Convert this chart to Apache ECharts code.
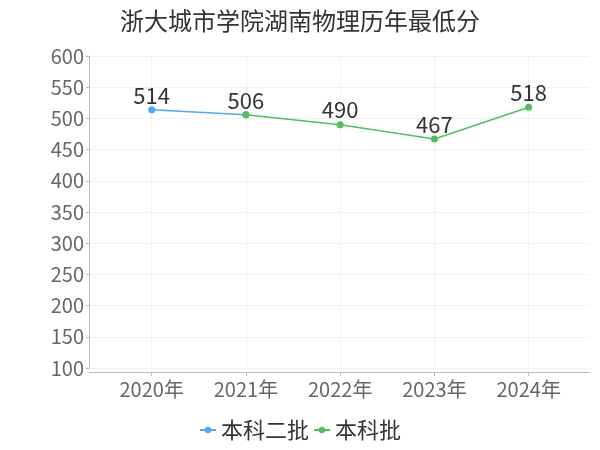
<!DOCTYPE html>
<html>
<head>
<meta charset="utf-8">
<script src="https://cdn.jsdelivr.net/npm/echarts@6/dist/echarts.min.js"></script>
<style>html,body{margin:0;padding:0;background:#fff}#c{width:600px;height:450px}</style>
</head>
<body>
<div id="c"></div>
<script>
var title = '浙大城市学院湖南物理历年最低分';
var years = ['2020年', '2021年', '2022年', '2023年', '2024年'];
var seriesNames = ['本科二批', '本科批'];
var erpi = [514, 506, null, null, null];
var benke = [null, 506, 490, 467, 518];
var yTicks = [100, 150, 200, 250, 300, 350, 400, 450, 500, 550, 600];

var FONT = '"Noto Sans CJK SC", "Noto Sans", sans-serif';

function toPoints(arr, hideIdx) {
  var out = [];
  arr.forEach(function (v, i) {
    if (v === null) return;
    var p = { value: [i, v] };
    if (hideIdx.indexOf(i) >= 0) p.label = { show: false };
    out.push(p);
  });
  return out;
}

var chart = echarts.init(document.getElementById('c'));
chart.setOption({
  animation: false,
  title: {
    text: title, left: 'center', top: 4,
    textStyle: { fontFamily: FONT, fontSize: 24, fontWeight: 'normal', color: '#333' }
  },
  legend: {
    data: seriesNames, bottom: 4, left: 'center',
    itemWidth: 16, itemHeight: 8, itemGap: 4,
    textStyle: { fontFamily: FONT, fontSize: 22, color: '#333' }
  },
  grid: { left: 89, right: 11, top: 56, bottom: 82 },
  xAxis: {
    type: 'value', min: -0.665, max: 4.64, offset: 4,
    axisLine: { show: true, onZero: false, lineStyle: { color: '#bbb' } },
    axisTick: { show: true, length: 4, lineStyle: { color: '#bbb' }, customValues: [0, 1, 2, 3, 4] },
    axisLabel: {
      fontFamily: FONT, fontSize: 20, color: '#666', margin: 7,
      customValues: [0, 1, 2, 3, 4],
      formatter: function (v) { return Number.isInteger(v) ? years[v] : ''; }
    },
    splitLine: { show: true, lineStyle: { color: '#f2f2f2' } }
  },
  yAxis: {
    type: 'value', min: yTicks[0], max: yTicks[yTicks.length - 1], interval: 50,
    axisLine: { show: true, onZero: false, lineStyle: { color: '#bbb' } },
    axisTick: { show: true, length: 3, lineStyle: { color: '#bbb' } },
    axisLabel: { fontFamily: FONT, fontSize: 20, color: '#666', margin: 5 },
    splitLine: { show: true, lineStyle: { color: '#f2f2f2' } }
  },
  series: [
    {
      name: seriesNames[0], type: 'line', data: toPoints(erpi, [1]),
      symbol: 'circle', symbolSize: 7,
      itemStyle: { color: '#4da6ff' }, lineStyle: { width: 1.5 },
      label: { show: true, position: 'top', distance: 0, fontFamily: FONT, fontSize: 22, color: '#333',
        formatter: function (p) { return p.value[1]; } }
    },
    {
      name: seriesNames[1], type: 'line', data: toPoints(benke, []),
      symbol: 'circle', symbolSize: 7,
      itemStyle: { color: '#4cc05a' }, lineStyle: { width: 1.5 },
      label: { show: true, position: 'top', distance: 0, fontFamily: FONT, fontSize: 22, color: '#333',
        formatter: function (p) { return p.value[1]; } }
    }
  ]
});
</script>
</body>
</html>
